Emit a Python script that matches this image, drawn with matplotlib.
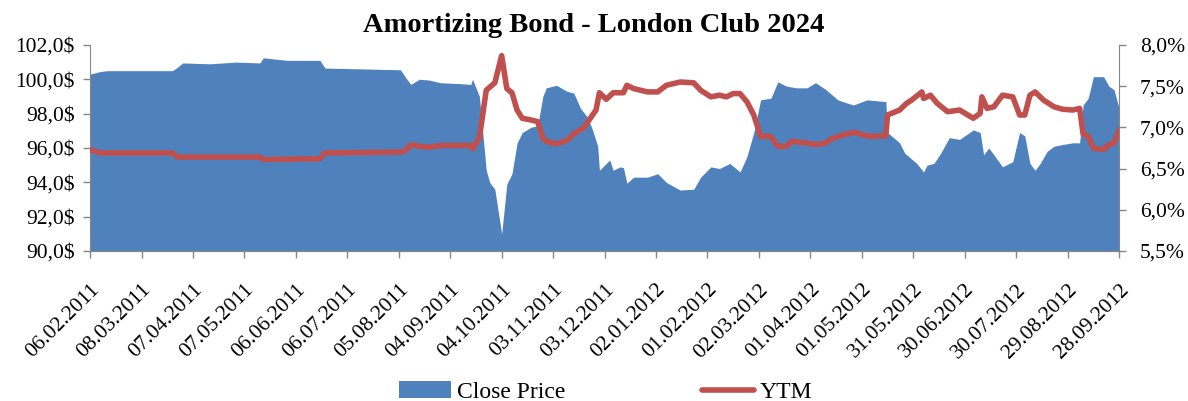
import pandas as pd
import matplotlib.pyplot as plt
import matplotlib.dates as mdates
from matplotlib.ticker import FuncFormatter

plt.rcParams["font.family"] = ["Liberation Serif", "DejaVu Serif"]

start = pd.Timestamp("2011-02-06")

# close price, days since 06.02.2011
price_days = [0, 6, 10, 30, 48, 51, 54, 70, 85, 99, 101, 115, 134, 137, 160, 181, 184, 187,
              192, 198, 204, 215, 222, 223, 227, 231, 233, 236, 240, 243, 246, 249, 252, 257,
              261, 264, 266, 272, 278, 282, 286, 290, 293, 296, 297, 301, 303, 305, 309, 311,
              313, 317, 325, 331, 336, 344, 352, 356, 362, 367, 373, 379, 383, 387, 391, 397,
              401, 406, 412, 418, 423, 429, 436, 445, 453, 464, 465, 472, 475, 482, 486, 488,
              492, 496, 501, 507, 515, 519, 521, 524, 527, 532, 538, 542, 545, 548, 551, 554,
              558, 562, 567, 573, 577, 579, 582, 585, 591, 594, 597, 600]
price = [100.3, 100.45, 100.5, 100.5, 100.5, 100.7, 100.95, 100.9, 101.0, 100.95, 101.25, 101.1,
         101.1, 100.65, 100.6, 100.55, 100.1, 99.7, 100.0, 99.95, 99.8, 99.75, 99.7, 100.0, 99.0,
         94.7, 94.0, 93.6, 91.0, 93.9, 94.5, 96.3, 96.9, 97.2, 97.3, 99.0, 99.5, 99.65, 99.3,
         99.2, 98.3, 97.8, 97.05, 96.1, 94.7, 95.1, 95.3, 94.7, 94.9, 94.85, 93.95, 94.3, 94.3,
         94.5, 94.0, 93.55, 93.6, 94.3, 94.9, 94.8, 95.1, 94.6, 95.5, 96.9, 98.8, 98.9, 99.85,
         99.6, 99.5, 99.5, 99.8, 99.4, 98.8, 98.5, 98.8, 98.7, 96.9, 96.3, 95.7, 95.1, 94.6,
         95.0, 95.1, 95.7, 96.6, 96.5, 97.05, 96.9, 95.6, 96.0, 95.6, 94.9, 95.2, 96.9, 96.7,
         95.1, 94.7, 95.1, 95.8, 96.1, 96.2, 96.3, 96.3, 98.5, 98.9, 100.15, 100.15, 99.6, 99.4,
         98.3]

# yield to maturity, %
ytm_days = [0, 6, 48, 51, 99, 101, 134, 137, 181, 184, 187, 192, 198, 204, 222, 223, 227, 231,
            236, 240, 243, 246, 249, 252, 257, 261, 264, 266, 272, 278, 282, 288, 295, 297, 301,
            305, 311, 313, 317, 325, 331, 336, 344, 352, 356, 362, 367, 371, 375, 379, 383, 387,
            391, 397, 401, 406, 409, 418, 423, 429, 432, 438, 445, 449, 455, 464, 465, 472, 476,
            479, 485, 486, 490, 494, 500, 507, 515, 519, 520, 523, 527, 532, 538, 542, 545, 548,
            551, 556, 562, 567, 573, 577, 579, 582, 585, 591, 594, 597, 600]
ytm = [6.73, 6.69, 6.69, 6.64, 6.64, 6.61, 6.62, 6.69, 6.70, 6.72, 6.79, 6.77, 6.76, 6.78, 6.78,
       6.74, 6.87, 7.45, 7.54, 7.87, 7.47, 7.42, 7.21, 7.11, 7.09, 7.07, 6.87, 6.83, 6.80, 6.84,
       6.92, 7.00, 7.21, 7.42, 7.34, 7.42, 7.42, 7.51, 7.47, 7.43, 7.43, 7.51, 7.55, 7.54, 7.45,
       7.37, 7.39, 7.37, 7.41, 7.41, 7.31, 7.15, 6.89, 6.89, 6.77, 6.77, 6.83, 6.81, 6.79, 6.81,
       6.86, 6.90, 6.94, 6.92, 6.89, 6.90, 7.15, 7.21, 7.29, 7.33, 7.43, 7.35, 7.39, 7.29, 7.19,
       7.21, 7.11, 7.17, 7.37, 7.23, 7.25, 7.39, 7.37, 7.15, 7.15, 7.39, 7.43, 7.33, 7.25, 7.22,
       7.21, 7.23, 6.92, 6.89, 6.75, 6.73, 6.79, 6.81, 6.97]

price_dates = [start + pd.Timedelta(days=d) for d in price_days]
ytm_dates = [start + pd.Timedelta(days=d) for d in ytm_days]
tick_dates = [start + pd.Timedelta(days=30 * i) for i in range(21)]

blue = "#4F81BD"
red = "#C0504D"
grey = "#868686"

fig = plt.figure(figsize=(11.88, 4.01), dpi=100)
ax = fig.add_axes([0.0758, 0.374, 0.8662, 0.514])
ax.fill_between(price_dates, price, 90, color=blue, lw=0, label="Close Price")
ax.set_ylim(90, 102)
ax.set_yticks(range(90, 103, 2))
ax.yaxis.set_major_formatter(FuncFormatter(lambda v, p: f"{v:.1f}$".replace(".", ",")))
ax.set_xlim(tick_dates[0], tick_dates[-1])
ax.set_xticks(tick_dates)
ax.xaxis.set_major_formatter(mdates.DateFormatter("%d.%m.%Y"))
plt.setp(ax.get_xticklabels(), rotation=45, ha="right", rotation_mode="anchor")

ax2 = ax.twinx()
ax2.plot(ytm_dates, ytm, color=red, lw=4, solid_capstyle="round", label="YTM")
ax2.set_ylim(5.5, 8.0)
ax2.set_yticks([5.5, 6.0, 6.5, 7.0, 7.5, 8.0])
ax2.yaxis.set_major_formatter(FuncFormatter(lambda v, p: f"{v:.1f}%".replace(".", ",")))

for a in (ax, ax2):
    a.spines["top"].set_visible(False)
    for s in ("left", "right", "bottom"):
        a.spines[s].set_color(grey)
    a.tick_params(colors=grey, labelcolor="black", labelsize=15.5, length=5, width=1)
ax.spines["right"].set_visible(False)
ax2.spines["left"].set_visible(False)
ax.tick_params(axis="x", pad=16)
ax.tick_params(axis="y", pad=6)
ax2.tick_params(axis="y", pad=10)

fig.text(0.5, 0.937, "Amortizing Bond - London Club 2024", fontsize=20.5, fontweight="bold",
         ha="center", va="center")

h1, l1 = ax.get_legend_handles_labels()
h2, l2 = ax2.get_legend_handles_labels()
fig.legend(h1 + h2, l1 + l2, loc="center", bbox_to_anchor=(0.51, 0.022), ncol=2,
           frameon=False, fontsize=17, handlelength=2.2, columnspacing=5.8, handletextpad=0.25)

plt.savefig("out.png", dpi=100)
